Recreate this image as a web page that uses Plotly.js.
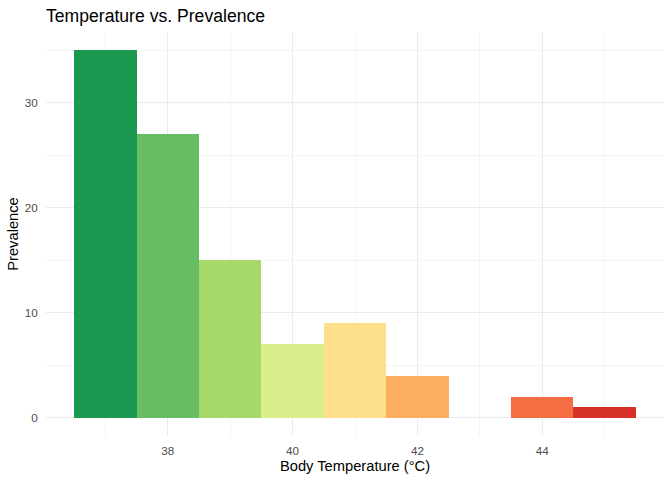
<!DOCTYPE html>
<html>
<head>
<meta charset="utf-8">
<script src="https://cdn.plot.ly/plotly-3.0.1.min.js"></script>
<style>html,body{margin:0;padding:0;background:#fff;}#chart{width:672px;height:480px;}</style>
</head>
<body>
<div id="chart"></div>
<script>
// Body temperature (°C) and how many cases were seen at each
const temperatures = [37, 38, 39, 40, 41, 42, 44, 45];
const prevalence = [35, 27, 15, 7, 9, 4, 2, 1];
// RdYlGn, green for the coolest readings through red for the hottest
const barColors = ['#1A9850', '#66BD63', '#A6D96A', '#D9EF8B', '#FEE08B', '#FDAE61', '#F46D43', '#D73027'];
const xTicks = [38, 40, 42, 44];
const yTicks = [0, 10, 20, 30];

const font = 'Liberation Sans, Arial, sans-serif';

const trace = {
  type: 'bar',
  x: temperatures,
  y: prevalence,
  width: 1,
  marker: {color: barColors, line: {width: 0}},
  hoverinfo: 'x+y'
};

const layout = {
  width: 672,
  height: 480,
  margin: {l: 46, r: 8, t: 32, b: 44, pad: 0},
  paper_bgcolor: '#FFFFFF',
  plot_bgcolor: '#FFFFFF',
  showlegend: false,
  font: {family: font, color: '#000000'},
  title: {
    text: 'Temperature vs. Prevalence',
    font: {family: font, size: 17.6, color: '#000000'},
    xref: 'container', yref: 'container',
    x: 46 / 672, xanchor: 'left',
    y: 1 - 15.5 / 480, yanchor: 'middle'
  },
  xaxis: {
    range: [36.05, 45.95],
    tickvals: xTicks,
    ticktext: xTicks.map(String),
    ticks: 'outside', ticklen: 4, tickcolor: 'rgba(0,0,0,0)',
    tickfont: {family: font, size: 11.7, color: '#4D4D4D'},
    showgrid: true, gridcolor: '#EBEBEB', gridwidth: 1.1,
    minor: {tickvals: [37, 39, 41, 43, 45], showgrid: true, gridcolor: '#EBEBEB', gridwidth: 0.55},
    zeroline: false, showline: false,
    title: {text: 'Body Temperature (°C)', font: {family: font, size: 14.7, color: '#000000'}, standoff: 4}
  },
  yaxis: {
    range: [-1.75, 36.75],
    tickvals: yTicks,
    ticktext: yTicks.map(String),
    ticks: 'outside', ticklen: 5, tickcolor: 'rgba(0,0,0,0)',
    tickfont: {family: font, size: 11.7, color: '#4D4D4D'},
    showgrid: true, gridcolor: '#EBEBEB', gridwidth: 1.1,
    minor: {tickvals: [5, 15, 25, 35], showgrid: true, gridcolor: '#EBEBEB', gridwidth: 0.55},
    zeroline: false, showline: false,
    title: {text: 'Prevalence', font: {family: font, size: 14.7, color: '#000000'}, standoff: 2}
  },
  bargap: 0
};

Plotly.newPlot('chart', [trace], layout, {displayModeBar: false, staticPlot: true});
</script>
</body>
</html>
